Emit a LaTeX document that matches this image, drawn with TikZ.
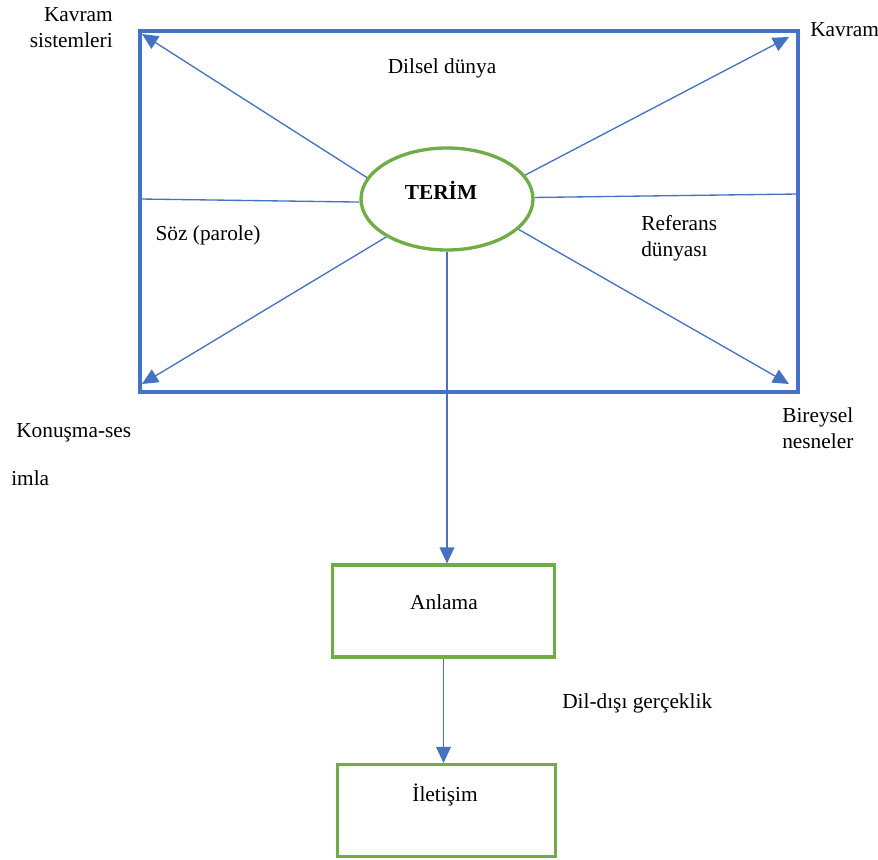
\documentclass[tikz,border=0pt]{standalone}
\usepackage{fontspec}
\setmainfont{Liberation Serif}
\usetikzlibrary{arrows.meta,shapes.geometric}
\definecolor{ablue}{HTML}{4472C4}
\definecolor{agreen}{HTML}{70AD47}
\begin{document}
\begin{tikzpicture}[x=0.75pt,y=-0.75pt,
  conn/.style={draw=ablue,line width=1pt},
  arr/.style={conn,-{Triangle[length=12pt,width=11pt]}},
  lbl/.style={inner sep=0pt,font=\fontsize{16}{19.5}\selectfont},
  greenbox/.style={draw=agreen,line width=2.3pt,minimum width=#1,minimum height=69pt,inner sep=0pt}]
\useasboundingbox (0,0) rectangle (878,860);
% big frame
\node[draw=ablue,line width=2.6pt,minimum width=493.5pt,minimum height=270.75pt,inner sep=0pt] (world) at (469,211.5) {};
% ellipse
\node[ellipse,draw=agreen,line width=2.5pt,minimum width=129pt,minimum height=76.5pt,inner sep=0pt,fill=white] (terim) at (447,199) {};
\node[lbl,font=\fontsize{16}{19.5}\selectfont\bfseries] (terimtxt) at (441,190) {TERİM};
% corner targets
\coordinate (tl) at (142,34);
\coordinate (tr) at (789,37);
\coordinate (bl) at (142,384);
\coordinate (br) at (789,384);
\coordinate (cL) at (140,199);
\coordinate (cR) at (798,194);
% connectors
\draw[arr] (terim.165) -- (tl);
\draw[arr] (terim.17) -- (tr);
\draw[arr] (terim.212) -- (bl);
\draw[arr] (terim.337) -- (br);
\draw[conn] (cL) -- (terim.182);
\draw[conn] (terim.1) -- (cR);
% lower boxes
\node[greenbox=167pt] (anlama) at (443.5,611) {};
\node[lbl] at (444,602) {Anlama};
\node[greenbox=163pt] (iletisim) at (446.5,810.5) {};
\node[lbl] at (445,795) {İletişim};
\draw[arr] (terim.south) -- (terim.south |- anlama.north);
\draw[arr] (anlama.south) -- (anlama.south |- iletisim.north);
% labels
\node[lbl,align=right,anchor=east] at (113,27.5) {Kavram\\sistemleri};
\node[lbl,anchor=west] at (810,30) {Kavram};
\node[lbl] at (442,68) {Dilsel dünya};
\node[lbl] at (208,235) {Söz (parole)};
\node[lbl,align=left,anchor=west] at (641,238) {Referans\\dünyası};
\node[lbl,anchor=west] at (16,433) {Konuşma-ses};
\node[lbl,anchor=west] at (11,478) {imla};
\node[lbl,align=left,anchor=west] at (782,428.5) {Bireysel\\nesneler};
\node[lbl,anchor=west] at (562,703) {Dil-dışı gerçeklik};
\end{tikzpicture}
\end{document}
